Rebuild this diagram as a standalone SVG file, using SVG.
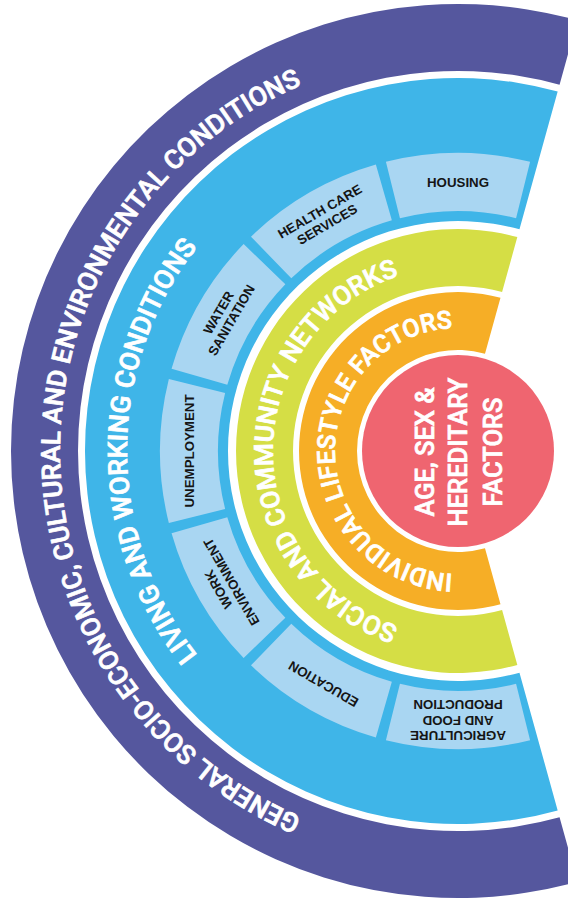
<svg xmlns="http://www.w3.org/2000/svg" xmlns:xlink="http://www.w3.org/1999/xlink" width="568" height="901" viewBox="0 0 568 901">
<style>
.band{font-family:Roboto,"Liberation Sans",sans-serif;font-weight:500;fill:#ffffff;stroke:#ffffff;stroke-width:0.7px;letter-spacing:0}
.tile{fill:#a9d6f2}
.tt{font-family:"Liberation Sans",Arial,sans-serif;font-weight:bold;font-size:13.3px;fill:#151515;text-anchor:middle}
.core{font-family:Roboto,"Liberation Sans",sans-serif;font-weight:500;font-size:25.5px;fill:#ffffff;stroke:#ffffff;stroke-width:0.7px;text-anchor:middle}
</style>
<defs>
<path id="tp-general" d="M594.12,825 A398,398 0 1 1 594.12,77"/>
<path id="tp-living" d="M571.21,762.04 A331,331 0 1 1 571.21,139.96"/>
<path id="tp-social" d="M521.27,624.84 A185,185 0 1 1 521.27,277.16"/>
<path id="tp-indiv" d="M500.07,566.58 A123,123 0 1 1 500.07,335.42"/>
<path id="tile-shape" d="M385.91,161.85 A298,298 0 0 1 530.09,161.85 L516.06,218.13 A240,240 0 0 0 399.94,218.13 Z"/>
</defs>
<rect width="568" height="901" fill="#ffffff"/>

<g id="ring-general">
<path d="M577.46,20.26 A447,447 0 1 0 577.46,881.74 L559.55,817.18 A380,380 0 1 1 559.55,84.82 Z" fill="#55579e"/>
<text class="band" font-size="26.5"><textPath href="#tp-general" xlink:href="#tp-general" startOffset="50%" text-anchor="middle">GENERAL SOCIO-ECONOMIC, CULTURAL AND ENVIRONMENTAL CONDITIONS</textPath></text>
</g>

<g id="ring-living">
<path d="M557.68,91.57 A373,373 0 1 0 557.68,810.43 L519.47,672.63 A230,230 0 1 1 519.47,229.37 Z" fill="#3fb5e8"/>
<text class="band" font-size="27"><textPath href="#tp-living" xlink:href="#tp-living" startOffset="50%" text-anchor="middle">LIVING AND WORKING CONDITIONS</textPath></text>
</g>

<g id="tile-housing" transform="rotate(0 458 451)">
<use href="#tile-shape" xlink:href="#tile-shape" class="tile"/>
<text class="tt" x="458" y="186.5">HOUSING</text>
</g>
<g id="tile-health" transform="rotate(-30 458 451)">
<use href="#tile-shape" xlink:href="#tile-shape" class="tile"/>
<text class="tt" x="458" y="179">HEALTH CARE</text>
<text class="tt" x="458" y="194">SERVICES</text>
</g>
<g id="tile-water" transform="rotate(-60 458 451)">
<use href="#tile-shape" xlink:href="#tile-shape" class="tile"/>
<text class="tt" x="458" y="179">WATER</text>
<text class="tt" x="458" y="194">SANITATION</text>
</g>
<g id="tile-unemployment" transform="rotate(-90 458 451)">
<use href="#tile-shape" xlink:href="#tile-shape" class="tile"/>
<text class="tt" x="458" y="186.5">UNEMPLOYMENT</text>
</g>
<g id="tile-work" transform="rotate(-120 458 451)">
<use href="#tile-shape" xlink:href="#tile-shape" class="tile"/>
<text class="tt" x="458" y="179">WORK</text>
<text class="tt" x="458" y="194">ENVIRONMENT</text>
</g>
<g id="tile-education" transform="rotate(-150 458 451)">
<use href="#tile-shape" xlink:href="#tile-shape" class="tile"/>
<text class="tt" x="458" y="186.5">EDUCATION</text>
</g>
<g id="tile-agriculture" transform="rotate(180 458 451)">
<use href="#tile-shape" xlink:href="#tile-shape" class="tile"/>
<text class="tt" x="458" y="171">AGRICULTURE</text>
<text class="tt" x="458" y="186.5">AND FOOD</text>
<text class="tt" x="458" y="202">PRODUCTION</text>
</g>

<g id="ring-social">
<path d="M517.33,237.07 A222,222 0 1 0 517.33,664.93 L502.09,610 A165,165 0 1 1 502.09,292 Z" fill="#d5de45"/>
<text class="band" font-size="26.3"><textPath href="#tp-social" xlink:href="#tp-social" startOffset="50%" text-anchor="middle">SOCIAL AND COMMUNITY NETWORKS</textPath></text>
</g>

<g id="ring-individual">
<path d="M500.49,297.78 A159,159 0 1 0 500.49,604.22 L484.99,548.33 A101,101 0 1 1 484.99,353.67 Z" fill="#f6ae26"/>
<text class="band" font-size="25"><textPath href="#tp-indiv" xlink:href="#tp-indiv" startOffset="50%" text-anchor="middle">INDIVIDUAL LIFESTYLE FACTORS</textPath></text>
</g>

<g id="core-age-sex">
<circle cx="458" cy="451" r="96" fill="#ef6570"/>
<g transform="translate(458,452) rotate(-90)">
<text class="core" x="0" y="-24">AGE, SEX &amp;</text>
<text class="core" x="0" y="9">HEREDITARY</text>
<text class="core" x="0" y="44">FACTORS</text>
</g>
</g>
</svg>
